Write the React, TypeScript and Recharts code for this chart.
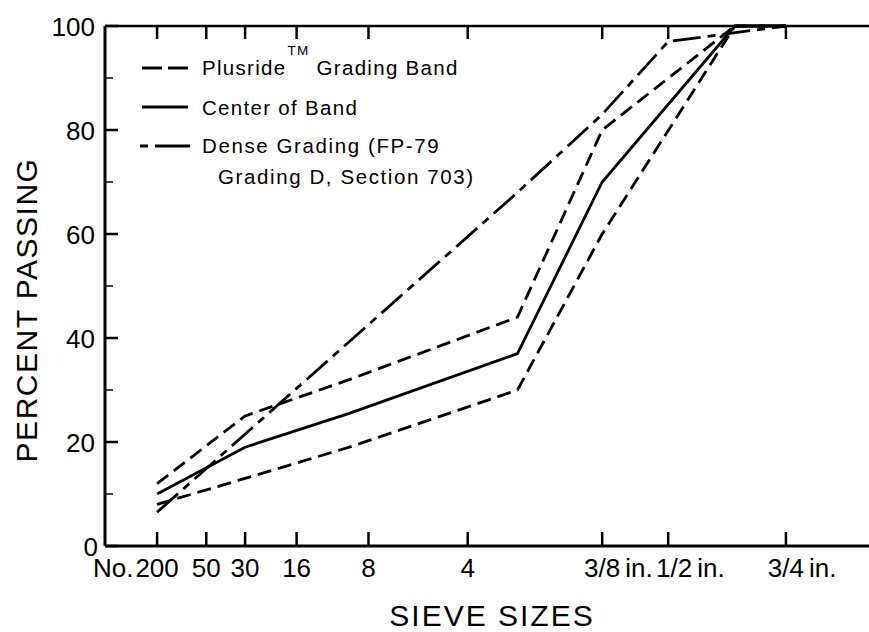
import React from 'react';
import { LineChart, Line, XAxis, YAxis } from 'recharts';

// sieve sizes plotted on a 0.45 power chart
const SIEVE_NAMES = ['No. 200', 'No. 50', 'No. 30', 'No. 16', 'No. 10', 'No. 8', 'No. 4', '1/4 in.', '3/8 in.', '1/2 in.', '5/8 in.', '3/4 in.'];
const SIEVE_MM = [0.075, 0.3, 0.6, 1.18, 2.0, 2.36, 4.75, 6.3, 9.5, 12.5, 16.0, 19.0];

// percent passing
const BAND_UPPER = [12, null, 25, null, 32, null, null, 44, 80, null, 100, 100];
const BAND_LOWER = [8, null, 13, null, 19, null, null, 30, 60, null, 100, 100];
const BAND_CENTER = [10, null, 19, null, 25.5, null, null, 37, 70, null, 100, 100];
const DENSE_D = [6.5, null, null, null, null, null, null, 68, 83, 97, null, 100];

// sieves that get a tick and a label
const TICK_SIEVES = ['No. 200', 'No. 50', 'No. 30', 'No. 16', 'No. 8', 'No. 4', '3/8 in.', '1/2 in.', '3/4 in.'];
const TICK_TEXT = ['200', '50', '30', '16', '8', '4', '3/8', '1/2', '3/4'];
const Y_TICKS = [0, 10, 20, 30, 40, 50, 60, 70, 80, 90, 100];

const FONT = '"Liberation Sans", Arial, sans-serif';
const pos = (mm: number) => Math.pow(mm, 0.45);
const X_DOMAIN = [0.026, 4.24];

const data = SIEVE_MM.map((mm, i) => ({
  sieve: SIEVE_NAMES[i],
  x: pos(mm),
  upper: BAND_UPPER[i],
  lower: BAND_LOWER[i],
  center: BAND_CENTER[i],
  dense: DENSE_D[i],
}));

const xTicks = TICK_SIEVES.map((name) => pos(SIEVE_MM[SIEVE_NAMES.indexOf(name)]));

function tickIndex(v: number) {
  let best = 0;
  xTicks.forEach((t, i) => {
    if (Math.abs(t - v) < Math.abs(xTicks[best] - v)) best = i;
  });
  return best;
}

const textWidth = (s: string, size: number) =>
  s.split('').reduce((w, c) => w + (c === '/' ? 0.278 : 0.556), 0) * size;

const BottomTick = (props: any) => {
  const { x, y, payload } = props;
  const i = tickIndex(payload.value);
  const main = TICK_TEXT[i];
  const name = TICK_SIEVES[i];
  const w = textWidth(main, 26);
  const cx = x + (main === '1/2' ? 6 : 0);
  const ty = y + 31;
  return (
    <g fontFamily={FONT} fontSize={26} fill="#000">
      <line x1={x} y1={y} x2={x} y2={y - 14} stroke="#000" strokeWidth={2.5} />
      <text x={cx} y={ty} textAnchor="middle">{main}</text>
      {name.startsWith('No.') && i === 0 && (
        <text x={cx - w / 2 - 2} y={ty} textAnchor="end">No.</text>
      )}
      {name.endsWith('in.') && (
        <text x={cx + w / 2 + 5} y={ty} textAnchor="start">in.</text>
      )}
    </g>
  );
};

const TopTick = (props: any) => {
  const { x, y } = props;
  return <line x1={x} y1={y} x2={x} y2={y + 13} stroke="#000" strokeWidth={2.5} />;
};

const LeftTick = (props: any) => {
  const { x, y, payload } = props;
  const v = payload.value;
  const major = v % 20 === 0;
  return (
    <g>
      <line x1={x} y1={y} x2={x + (major ? 13 : 8)} y2={y} stroke="#000" strokeWidth={major ? 2.5 : 1.5} />
      {major && (
        <text x={v === 0 ? x - 7 : x - 10} y={y + 9.5} textAnchor="end" fontFamily={FONT} fontSize={26} fill="#000">
          {v}
        </text>
      )}
    </g>
  );
};

const RightTick = (props: any) => {
  const { x, y, payload } = props;
  const major = payload.value % 20 === 0;
  return <line x1={x} y1={y} x2={x - (major ? 12 : 6)} y2={y} stroke="#000" strokeWidth={2.5} />;
};

export default function App() {
  return (
    <div style={{ position: 'absolute', left: 0, top: 0, width: 869, height: 632, overflow: 'hidden', background: '#fff' }}>
      <LineChart width={885} height={632} data={data} margin={{ top: 25, right: 0, bottom: 56, left: 45 }}>
        <XAxis
          dataKey="x"
          type="number"
          domain={X_DOMAIN}
          ticks={xTicks}
          interval={0}
          tick={<BottomTick />}
          tickLine={false}
          tickSize={0}
          tickMargin={0}
          height={30}
          axisLine={{ stroke: '#000', strokeWidth: 3 }}
        />
        <XAxis
          xAxisId="top"
          orientation="top"
          dataKey="x"
          type="number"
          domain={X_DOMAIN}
          ticks={xTicks}
          interval={0}
          tick={<TopTick />}
          tickLine={false}
          tickSize={0}
          tickMargin={0}
          height={1}
          axisLine={{ stroke: '#000', strokeWidth: 2.5 }}
        />
        <YAxis
          type="number"
          domain={[0, 100]}
          ticks={Y_TICKS}
          interval={0}
          tick={<LeftTick />}
          tickLine={false}
          tickSize={0}
          tickMargin={0}
          width={60}
          axisLine={{ stroke: '#000', strokeWidth: 3 }}
        />
        <YAxis
          yAxisId="right"
          orientation="right"
          type="number"
          domain={[0, 100]}
          ticks={Y_TICKS}
          interval={0}
          tick={<RightTick />}
          tickLine={false}
          tickSize={0}
          tickMargin={0}
          width={12}
          axisLine={{ stroke: '#000', strokeWidth: 3 }}
        />
        <Line dataKey="upper" type="linear" stroke="#000" strokeWidth={2.8} strokeDasharray="14 7" dot={false} connectNulls isAnimationActive={false} />
        <Line dataKey="lower" type="linear" stroke="#000" strokeWidth={2.8} strokeDasharray="14 7" dot={false} connectNulls isAnimationActive={false} />
        <Line dataKey="center" type="linear" stroke="#000" strokeWidth={2.8} dot={false} connectNulls isAnimationActive={false} />
        <Line dataKey="dense" type="linear" stroke="#000" strokeWidth={2.8} strokeDasharray="28 7 8 7" dot={false} connectNulls isAnimationActive={false} />
      </LineChart>

      <svg width={869} height={632} style={{ position: 'absolute', left: 0, top: 0, pointerEvents: 'none' }} fontFamily={FONT} fill="#000">
        {/* legend */}
        <line x1={142} y1={68} x2={188} y2={68} stroke="#000" strokeWidth={2.8} strokeDasharray="20 6" />
        <text x={202} y={75} fontSize={20.5} letterSpacing={1.3}>
          Plusride<tspan fontSize={13.5} dx={1} dy={-20}>TM</tspan>
          <tspan dy={20}> Grading Band</tspan>
        </text>
        <line x1={142} y1={107} x2={188} y2={107} stroke="#000" strokeWidth={2.8} />
        <text x={202} y={115} fontSize={20.5} letterSpacing={1.3}>Center of Band</text>
        <line x1={140} y1={146} x2={190} y2={146} stroke="#000" strokeWidth={2.8} strokeDasharray="8 7 35 100" />
        <text x={202} y={153} fontSize={20.5} letterSpacing={1.6}>Dense Grading (FP-79</text>
        <text x={218} y={184} fontSize={20.5} letterSpacing={1.6}>Grading D, Section 703)</text>

        {/* axis titles */}
        <text x={492} y={626} textAnchor="middle" fontSize={30} letterSpacing={2}>SIEVE SIZES</text>
        <text x={37} y={310} textAnchor="middle" fontSize={30} letterSpacing={1.5} transform="rotate(-90 37 310)">
          PERCENT PASSING
        </text>
      </svg>
    </div>
  );
}
